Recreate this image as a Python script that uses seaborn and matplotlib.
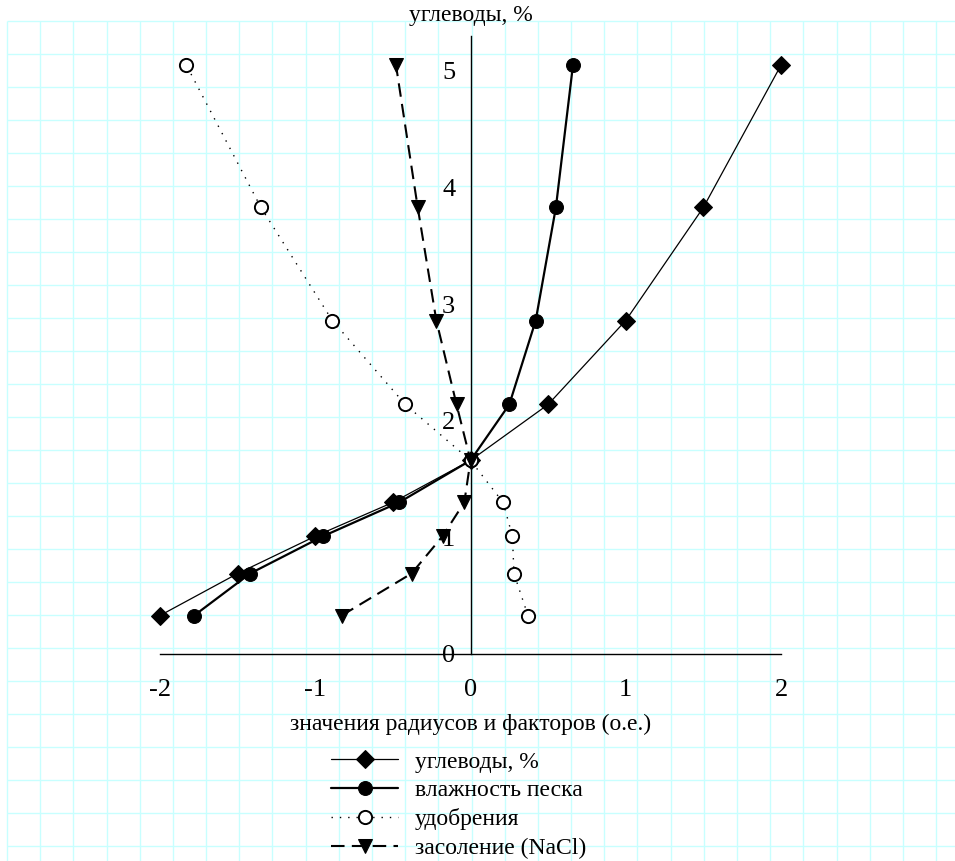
import numpy as np
import pandas as pd
import matplotlib
matplotlib.use("Agg")
import matplotlib.pyplot as plt
import seaborn as sns

# common y levels (углеводы, %)
y_levels = [0.33, 0.69, 1.01, 1.30, 1.66, 2.14, 2.86, 3.83, 5.05]

# x values per series (значения радиусов и факторов)
x_carbs = [-2.0, -1.5, -1.0, -0.5, 0.0, 0.5, 1.0, 1.5, 2.0]
x_moist = [-1.78, -1.42, -0.95, -0.46, 0.0, 0.25, 0.42, 0.55, 0.66]
x_fert = [0.37, 0.28, 0.27, 0.21, 0.0, -0.42, -0.89, -1.35, -1.83]
x_salt = [-0.83, -0.38, -0.18, -0.04, 0.0, -0.09, -0.22, -0.34, -0.48]

names = ["углеводы, %", "влажность песка", "удобрения", "засоление (NaCl)"]
x_ticks = [-2, -1, 0, 1, 2]
y_ticks = [0, 1, 2, 3, 4, 5]

frames = []
for name, xs in zip(names, [x_carbs, x_moist, x_fert, x_salt]):
    frames.append(pd.DataFrame({"x": xs, "y": y_levels, "series": name}))
df = pd.concat(frames, ignore_index=True)

styles = {
    "углеводы, %": dict(marker="D", markersize=9, mfc="black", mec="black",
                        lw=0.9, linestyle="-"),
    "влажность песка": dict(marker="o", markersize=10, mfc="black", mec="black",
                            lw=1.6, linestyle="-"),
    "удобрения": dict(marker="o", markersize=9.5, mfc="white", mec="black", mew=1.4,
                      lw=1.0, linestyle=(0, (1, 5))),
    "засоление (NaCl)": dict(marker="v", markersize=10.5, mfc="black", mec="black",
                             lw=1.5, linestyle=(0, (6.5, 3.5))),
}

sns.set_style("white")
plt.rcParams["font.family"] = ["Liberation Serif", "DejaVu Serif"]
plt.rcParams["font.size"] = 17
for key in ["text.color", "axes.labelcolor", "xtick.color", "ytick.color"]:
    plt.rcParams[key] = "black"

W, H = 955, 861
fig = plt.figure(figsize=(W / 100, H / 100), dpi=100)

# graph-paper background
bg = fig.add_axes([0, 0, 1, 1], zorder=0)
bg.set_xlim(0, W)
bg.set_ylim(H, 0)
bg.axis("off")
gx = np.arange(7, W, 33.18)
gy = np.arange(21, H, 33.0)
bg.vlines(gx, 21, H, color="#c8ffff", lw=1.0)
bg.hlines(gy, 7, W, color="#c8ffff", lw=1.0)

ax = fig.add_axes([160 / W, 1 - 654 / H, (781 - 160) / W, (654 - 36) / H], zorder=1)
ax.patch.set_alpha(0)

for name in names:
    sub = df[df["series"] == name]
    sns.lineplot(data=sub, x="x", y="y", sort=False, estimator=None, ax=ax,
                 color="black", label=name, clip_on=False, zorder=3,
                 **styles[name])

handles, labels = ax.get_legend_handles_labels()
if ax.get_legend() is not None:
    ax.get_legend().remove()

ax.set_xlim(-2, 2)
ax.set_ylim(0, 5.3)
ax.spines["top"].set_visible(False)
ax.spines["right"].set_visible(False)
ax.spines["left"].set_position(("data", 0))
for s in ["left", "bottom"]:
    ax.spines[s].set_color("black")
    ax.spines[s].set_linewidth(1.0)
ax.set_xticks(x_ticks)
ax.set_xticklabels([str(t) for t in x_ticks])
ax.set_yticks(y_ticks)
ax.set_yticklabels([str(t) for t in y_ticks])
ax.tick_params(axis="x", direction="out", length=7, width=1, pad=11, labelsize=19)
ax.tick_params(axis="y", direction="out", length=5, width=1, pad=6, labelsize=19)
ax.set_xlabel("значения радиусов и факторов (о.е.)", fontsize=17, labelpad=9)
ax.set_ylabel("")

fig.text(471 / W, 1 - 15 / H, "углеводы, %", ha="center", va="center", fontsize=17)

fig.legend(handles, labels, loc="upper left", bbox_to_anchor=(331 / W, 1 - 751 / H),
           frameon=False, fontsize=17, handlelength=2.85, handletextpad=0.7,
           labelspacing=0.3, borderpad=0, borderaxespad=0, numpoints=1)

fig.savefig("out.png", dpi=100)
